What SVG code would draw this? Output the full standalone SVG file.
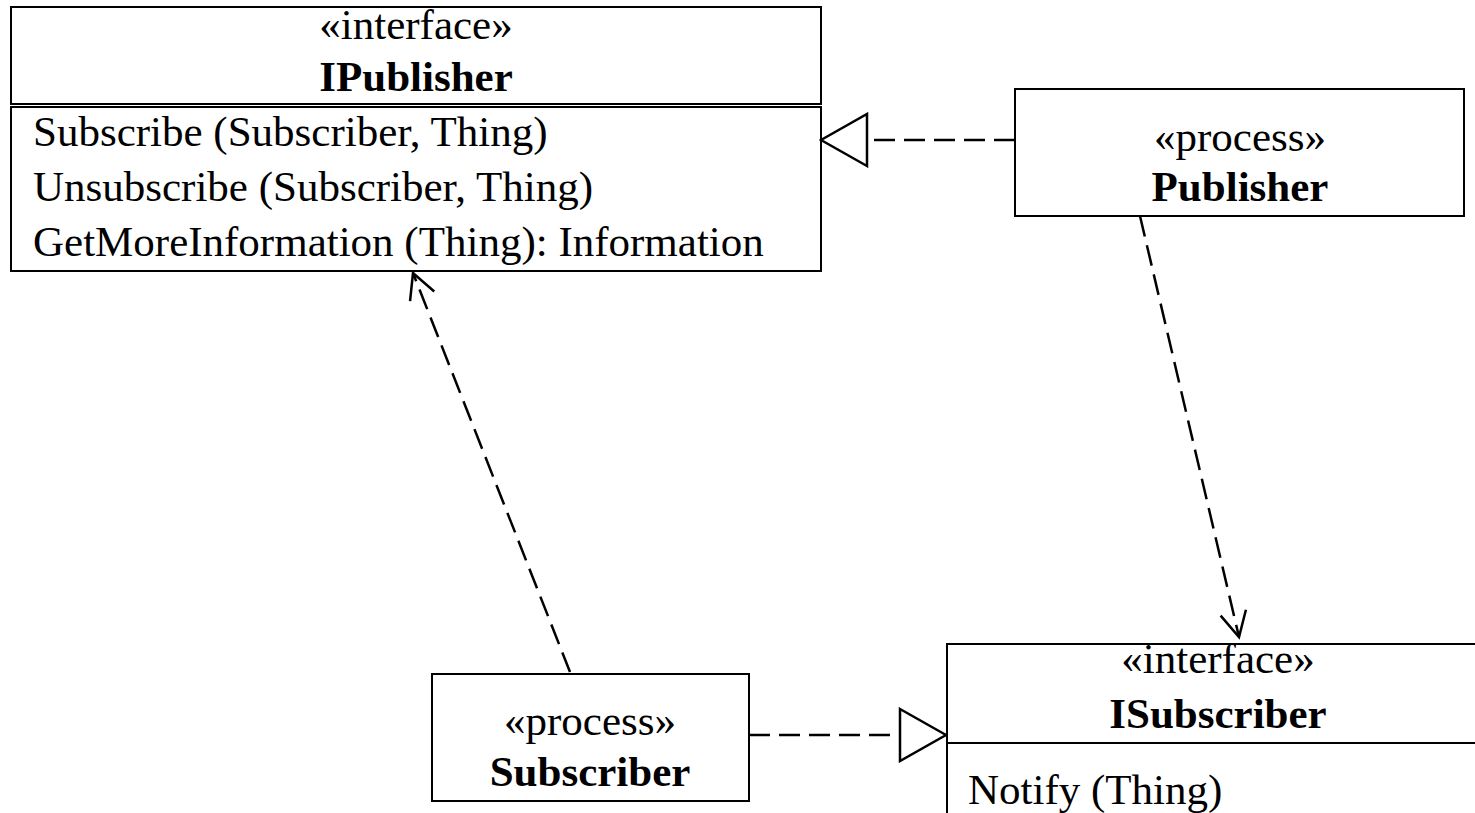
<svg xmlns="http://www.w3.org/2000/svg" width="1475" height="813" viewBox="0 0 1475 813">
  <style>
    .box { fill: #fff; stroke: #000; stroke-width: 2; }
    .txt { font-family: "Liberation Serif", "Times New Roman", serif; font-size: 43px; fill: #000; }
    .b { font-weight: bold; }
    .mid { text-anchor: middle; }
    .dash { fill: none; stroke: #000; stroke-width: 2.5; stroke-dasharray: 21 9; }
  </style>
  <defs>
    <!-- hollow triangle for realization -->
    <marker id="realize" markerUnits="userSpaceOnUse" viewBox="0 0 50 56" refX="48" refY="28" markerWidth="50" markerHeight="56" orient="auto">
      <path d="M2,2 L48,28 L2,54 Z" fill="#fff" stroke="#000" stroke-width="2.5" stroke-dasharray="none"/>
    </marker>
    <!-- open arrowhead for dependency -->
    <marker id="depend" markerUnits="userSpaceOnUse" viewBox="0 0 30 30" refX="27" refY="15" markerWidth="30" markerHeight="30" orient="auto">
      <path d="M2,2 L27,15 L2,28" fill="none" stroke="#000" stroke-width="2.5" stroke-dasharray="none"/>
    </marker>
  </defs>

  <g id="IPublisher">
    <rect class="box" x="11" y="7" width="810" height="97"/>
    <rect class="box" x="11" y="107" width="810" height="164"/>
    <text class="txt mid" x="416" y="39">«interface»</text>
    <text class="txt b mid" x="416" y="91">IPublisher</text>
    <text class="txt" x="33" y="146">Subscribe (Subscriber, Thing)</text>
    <text class="txt" x="33" y="201">Unsubscribe (Subscriber, Thing)</text>
    <text class="txt" x="33" y="256">GetMoreInformation (Thing): Information</text>
  </g>

  <g id="Publisher">
    <rect class="box" x="1015" y="89" width="449" height="127"/>
    <text class="txt mid" x="1240" y="151">«process»</text>
    <text class="txt b mid" x="1240" y="201">Publisher</text>
  </g>

  <g id="Subscriber">
    <rect class="box" x="432" y="674" width="317" height="127"/>
    <text class="txt mid" x="590" y="735">«process»</text>
    <text class="txt b mid" x="590" y="786">Subscriber</text>
  </g>

  <g id="ISubscriber">
    <rect class="box" x="947" y="644" width="560" height="99"/>
    <rect class="box" x="947" y="743" width="560" height="100"/>
    <text class="txt mid" x="1218" y="673">«interface»</text>
    <text class="txt b mid" x="1218" y="728">ISubscriber</text>
    <text class="txt" x="968" y="804">Notify (Thing)</text>
  </g>

  <g id="connectors">
    <line class="dash" x1="1015" y1="140" x2="821" y2="140" marker-end="url(#realize)"/>
    <line class="dash" x1="749" y1="735" x2="946" y2="735" marker-end="url(#realize)"/>
    <line class="dash" x1="1140" y1="216" x2="1239" y2="637" marker-end="url(#depend)"/>
    <line class="dash" x1="570" y1="672" x2="413" y2="273" marker-end="url(#depend)"/>
  </g>
</svg>
